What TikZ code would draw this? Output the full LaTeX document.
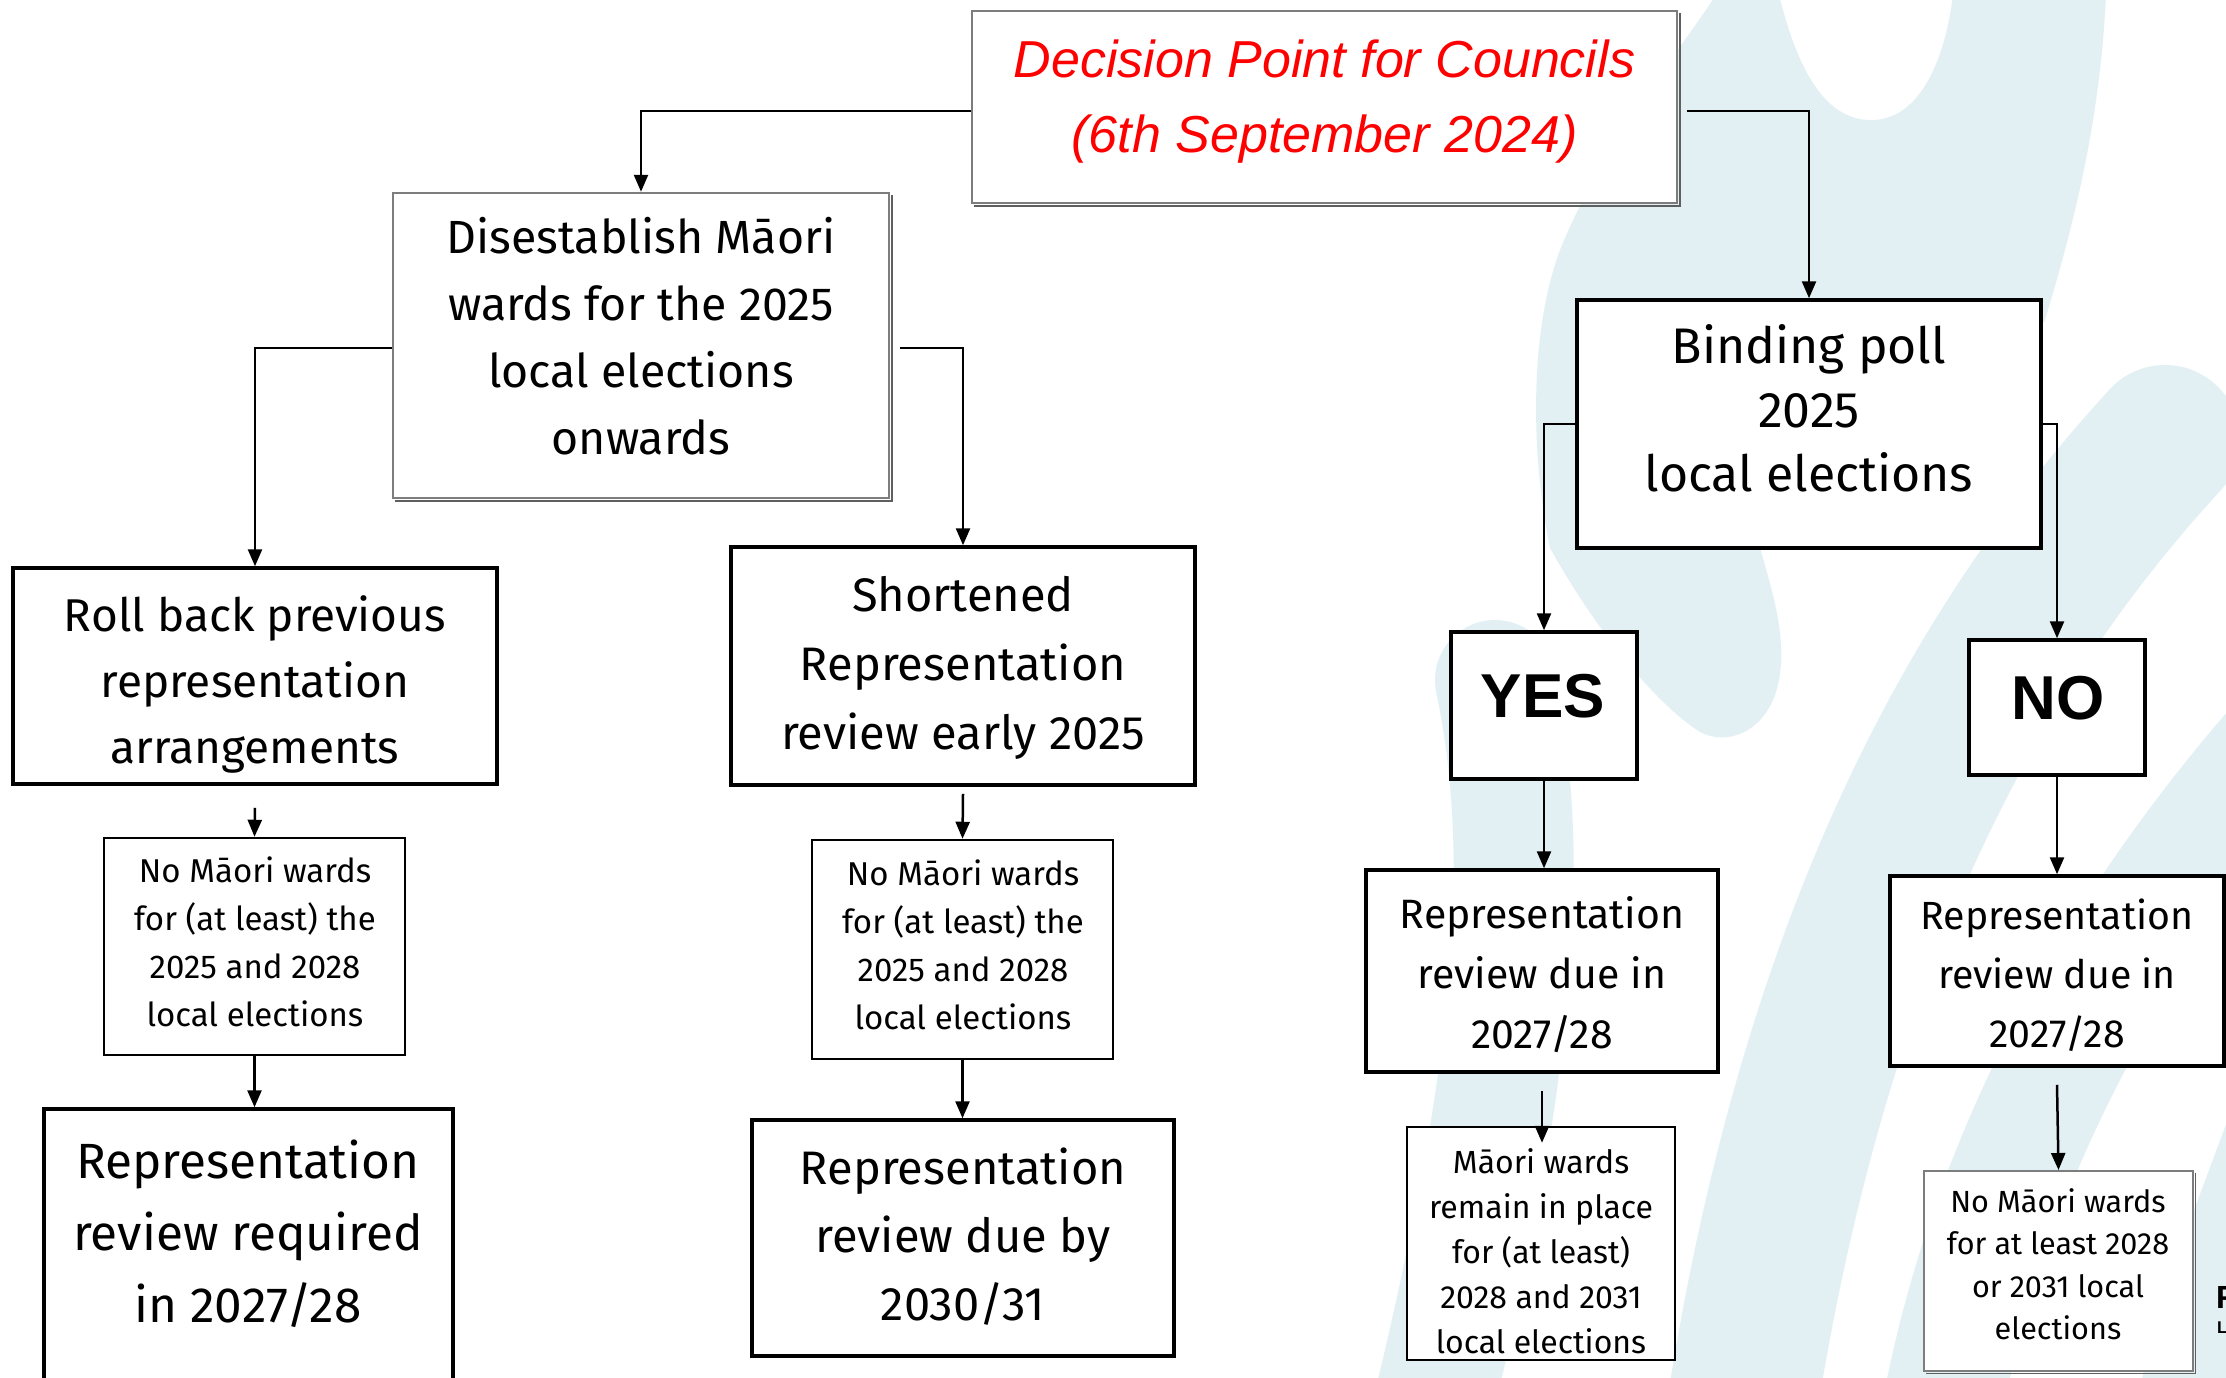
\documentclass[tikz,border=0pt]{standalone}
\usepackage{fontspec}
\setmainfont{Fira Sans}
\newfontfamily\arialfont{Liberation Sans}
\usetikzlibrary{arrows.meta}
\definecolor{bgblue}{RGB}{226,240,244}
\definecolor{boxgray}{RGB}{125,125,125}
\definecolor{shadowgray}{RGB}{95,95,95}
\definecolor{titlered}{RGB}{255,0,0}
\tikzset{
  boxb/.style={draw=black, line width=3.5pt, fill=white, inner sep=0pt},
  boxthin/.style={draw=black, line width=2.5pt, fill=white, inner sep=0pt},
  boxg/.style={draw=boxgray, line width=2.5pt, fill=white, inner sep=0pt},
  shadowline/.style={draw=shadowgray, line width=2pt},
  conn/.style={draw=black, line width=2.5pt, -{Triangle[length=17pt,width=14pt]}},
  txt/.style={align=center, inner sep=0pt},
  bgband/.style={draw=bgblue, line cap=round},
}
\begin{document}
\begin{tikzpicture}[x=1pt,y=-1pt]
\useasboundingbox (0,0) rectangle (2226,1377);
\clip (0,0) rectangle (2226,1377);
\fill[white] (0,0) rectangle (2226,1377);
% background watermark
\fill[bgblue] (1716,-5) -- (1779,-5) .. controls (1800,80) and (1830,122) .. (1874,120)
  .. controls (1920,118) and (1945,60) .. (1953,-5) -- (2106,-5)
  .. controls (2100,120) and (2075,220) .. (2045,320) -- (1900,548) -- (1760,548)
  .. controls (1775,600) and (1790,650) .. (1775,695)
  .. controls (1760,735) and (1725,745) .. (1700,732)
  .. controls (1650,700) and (1590,620) .. (1550,548)
  .. controls (1530,450) and (1530,330) .. (1560,250)
  .. controls (1600,150) and (1680,50) .. (1716,-5) -- cycle;
\draw[bgband, line width=120pt] (1495,680) .. controls (1530,850) and (1520,1050) .. (1430,1420);
\draw[bgband, line width=150pt] (2165,440) .. controls (2000,620) and (1820,900) .. (1740,1420);
\draw[bgband, line width=120pt] (2300,720) .. controls (2120,920) and (1990,1150) .. (1940,1420);
\draw[bgband, line width=90pt] (2300,1050) .. controls (2250,1200) and (2200,1300) .. (2180,1420);

% boxes
\node[boxg, minimum width=705pt, minimum height=192pt] (top) at (1324.5,107) {};
\draw[shadowline] ([xshift=2pt,yshift=-3pt]top.north east) -- ([xshift=2pt,yshift=-2pt]top.south east) -- ([xshift=3pt,yshift=-2pt]top.south west);
\node[boxg, minimum width=496pt, minimum height=305pt] (dis) at (641,345.5) {};
\draw[shadowline] ([xshift=2pt,yshift=-3pt]dis.north east) -- ([xshift=2pt,yshift=-2pt]dis.south east) -- ([xshift=3pt,yshift=-2pt]dis.south west);
\node[boxb, minimum width=484pt, minimum height=216pt] (roll) at (255,676) {};
\node[boxthin, minimum width=301pt, minimum height=217pt] (small1) at (254.5,946.5) {};
\node[boxb, minimum width=409pt, minimum height=311pt] (rep1) at (248.5,1264.5) {};
\node[boxb, minimum width=464pt, minimum height=238pt] (short) at (963,666) {};
\node[boxthin, minimum width=301pt, minimum height=219pt] (small2) at (962.5,949.5) {};
\node[boxb, minimum width=422pt, minimum height=236pt] (rep2) at (963,1238) {};
\node[boxb, minimum width=464pt, minimum height=248pt] (bind) at (1809,424) {};
\node[boxb, minimum width=186pt, minimum height=147pt] (yes) at (1544,705.5) {};
\node[boxb, minimum width=176pt, minimum height=135pt] (no) at (2057,707.5) {};
\node[boxb, minimum width=352pt, minimum height=202pt] (repY) at (1542,971) {};
\node[boxb, minimum width=334pt, minimum height=190pt] (repN) at (2057,971) {};
\node[boxthin, minimum width=268pt, minimum height=233pt] (small3) at (1541,1243.5) {};
\node[boxg, line width=2pt, minimum width=269pt, minimum height=200pt] (small4) at (2058.5,1271) {};
\draw[shadowline, line width=1.5pt] ([xshift=1.5pt,yshift=-3pt]small4.north east) -- ([xshift=1.5pt,yshift=-1.5pt]small4.south east) -- ([xshift=3pt,yshift=-1.5pt]small4.south west);

% texts
\node[txt, text=titlered, font=\arialfont\itshape\fontsize{52}{75}\selectfont] (ttop) at (1324.5,102) {Decision Point for Councils\\(6th September 2024)};
\node[txt, font=\fontsize{46.5}{67}\selectfont] (tdis) at (641,336) {Disestablish Māori\\wards for the 2025\\local elections\\onwards};
\node[txt, font=\fontsize{46}{66}\selectfont] (troll) at (255,684) {Roll back previous\\representation\\arrangements};
\node[txt, font=\fontsize{33}{48}\selectfont] (tsmall1) at (255,942) {No Māori wards\\for (at least) the\\2025 and 2028\\local elections};
\node[txt, font=\fontsize{49.5}{72}\selectfont] (trep1) at (248,1234) {Representation\\review required\\in 2027/28};
\node[txt, font=\fontsize{47}{69}\selectfont] (tshort) at (963,668) {Shortened\\Representation\\review early 2025};
\node[txt, font=\fontsize{33}{48}\selectfont] (tsmall2) at (963,945) {No Māori wards\\for (at least) the\\2025 and 2028\\local elections};
\node[txt, font=\fontsize{47}{68}\selectfont] (trep2) at (963,1237) {Representation\\review due by\\2030/31};
\node[txt, font=\fontsize{50}{64}\selectfont] (tbind) at (1809,408) {Binding poll\\2025\\local elections};
\node[txt, font=\arialfont\bfseries\fontsize{62}{62}\selectfont] (tyes) at (1543,696) {YES};
\node[txt, font=\arialfont\bfseries\fontsize{62}{62}\selectfont] (tno) at (2058,698) {NO};
\node[txt, font=\fontsize{41}{60}\selectfont] (trepY) at (1542,975) {Representation\\review due in\\2027/28};
\node[txt, font=\fontsize{39.3}{59}\selectfont] (trepN) at (2057,975) {Representation\\review due in\\2027/28};
\node[txt, font=\fontsize{32}{45}\selectfont] (tsmall3) at (1541,1251) {Māori wards\\remain in place\\for (at least)\\2028 and 2031\\local elections};
\node[txt, font=\fontsize{30.6}{42.5}\selectfont] (tsmall4) at (2058,1264) {No Māori wards\\for at least 2028\\or 2031 local\\elections};
\node[anchor=base west, inner sep=0pt, font=\arialfont\bfseries\fontsize{32}{32}\selectfont] (logoF) at (2216,1308) {F};
\node[anchor=base west, inner sep=0pt, font=\arialfont\bfseries\fontsize{17}{17}\selectfont] (logoL) at (2217,1333) {L};

% connectors
\draw[conn] ([yshift=-4pt]top.west) -| (dis.north);
\draw[conn] ([xshift=9pt,yshift=-4pt]top.east) -| (bind.north);
\draw[conn] ([yshift=-2.5pt]dis.west) -| (roll.north);
\draw[conn] ([xshift=10pt,yshift=-2.5pt]dis.east) -| (short.north);
\draw[conn] ([yshift=-22pt]roll.south) -- (small1.north);
\draw[conn] (small1.south) -- (small1.south |- rep1.north);
\draw[conn] ([yshift=-7pt]short.south) -- (small2.north);
\draw[conn] (small2.south) -- (small2.south |- rep2.north);
\draw[conn] (bind.west) -| (yes.north);
\draw[conn] (bind.east) -| (no.north);
\draw[conn] (yes.south) -- (yes.south |- repY.north);
\draw[conn] (no.south) -- (repN.north);
\draw[conn] ([yshift=-17pt]repY.south) -- ([yshift=-17pt]repY.south |- small3.north);
\draw[conn] ([yshift=-17pt]repN.south) -- (small4.north);
\end{tikzpicture}
\end{document}
